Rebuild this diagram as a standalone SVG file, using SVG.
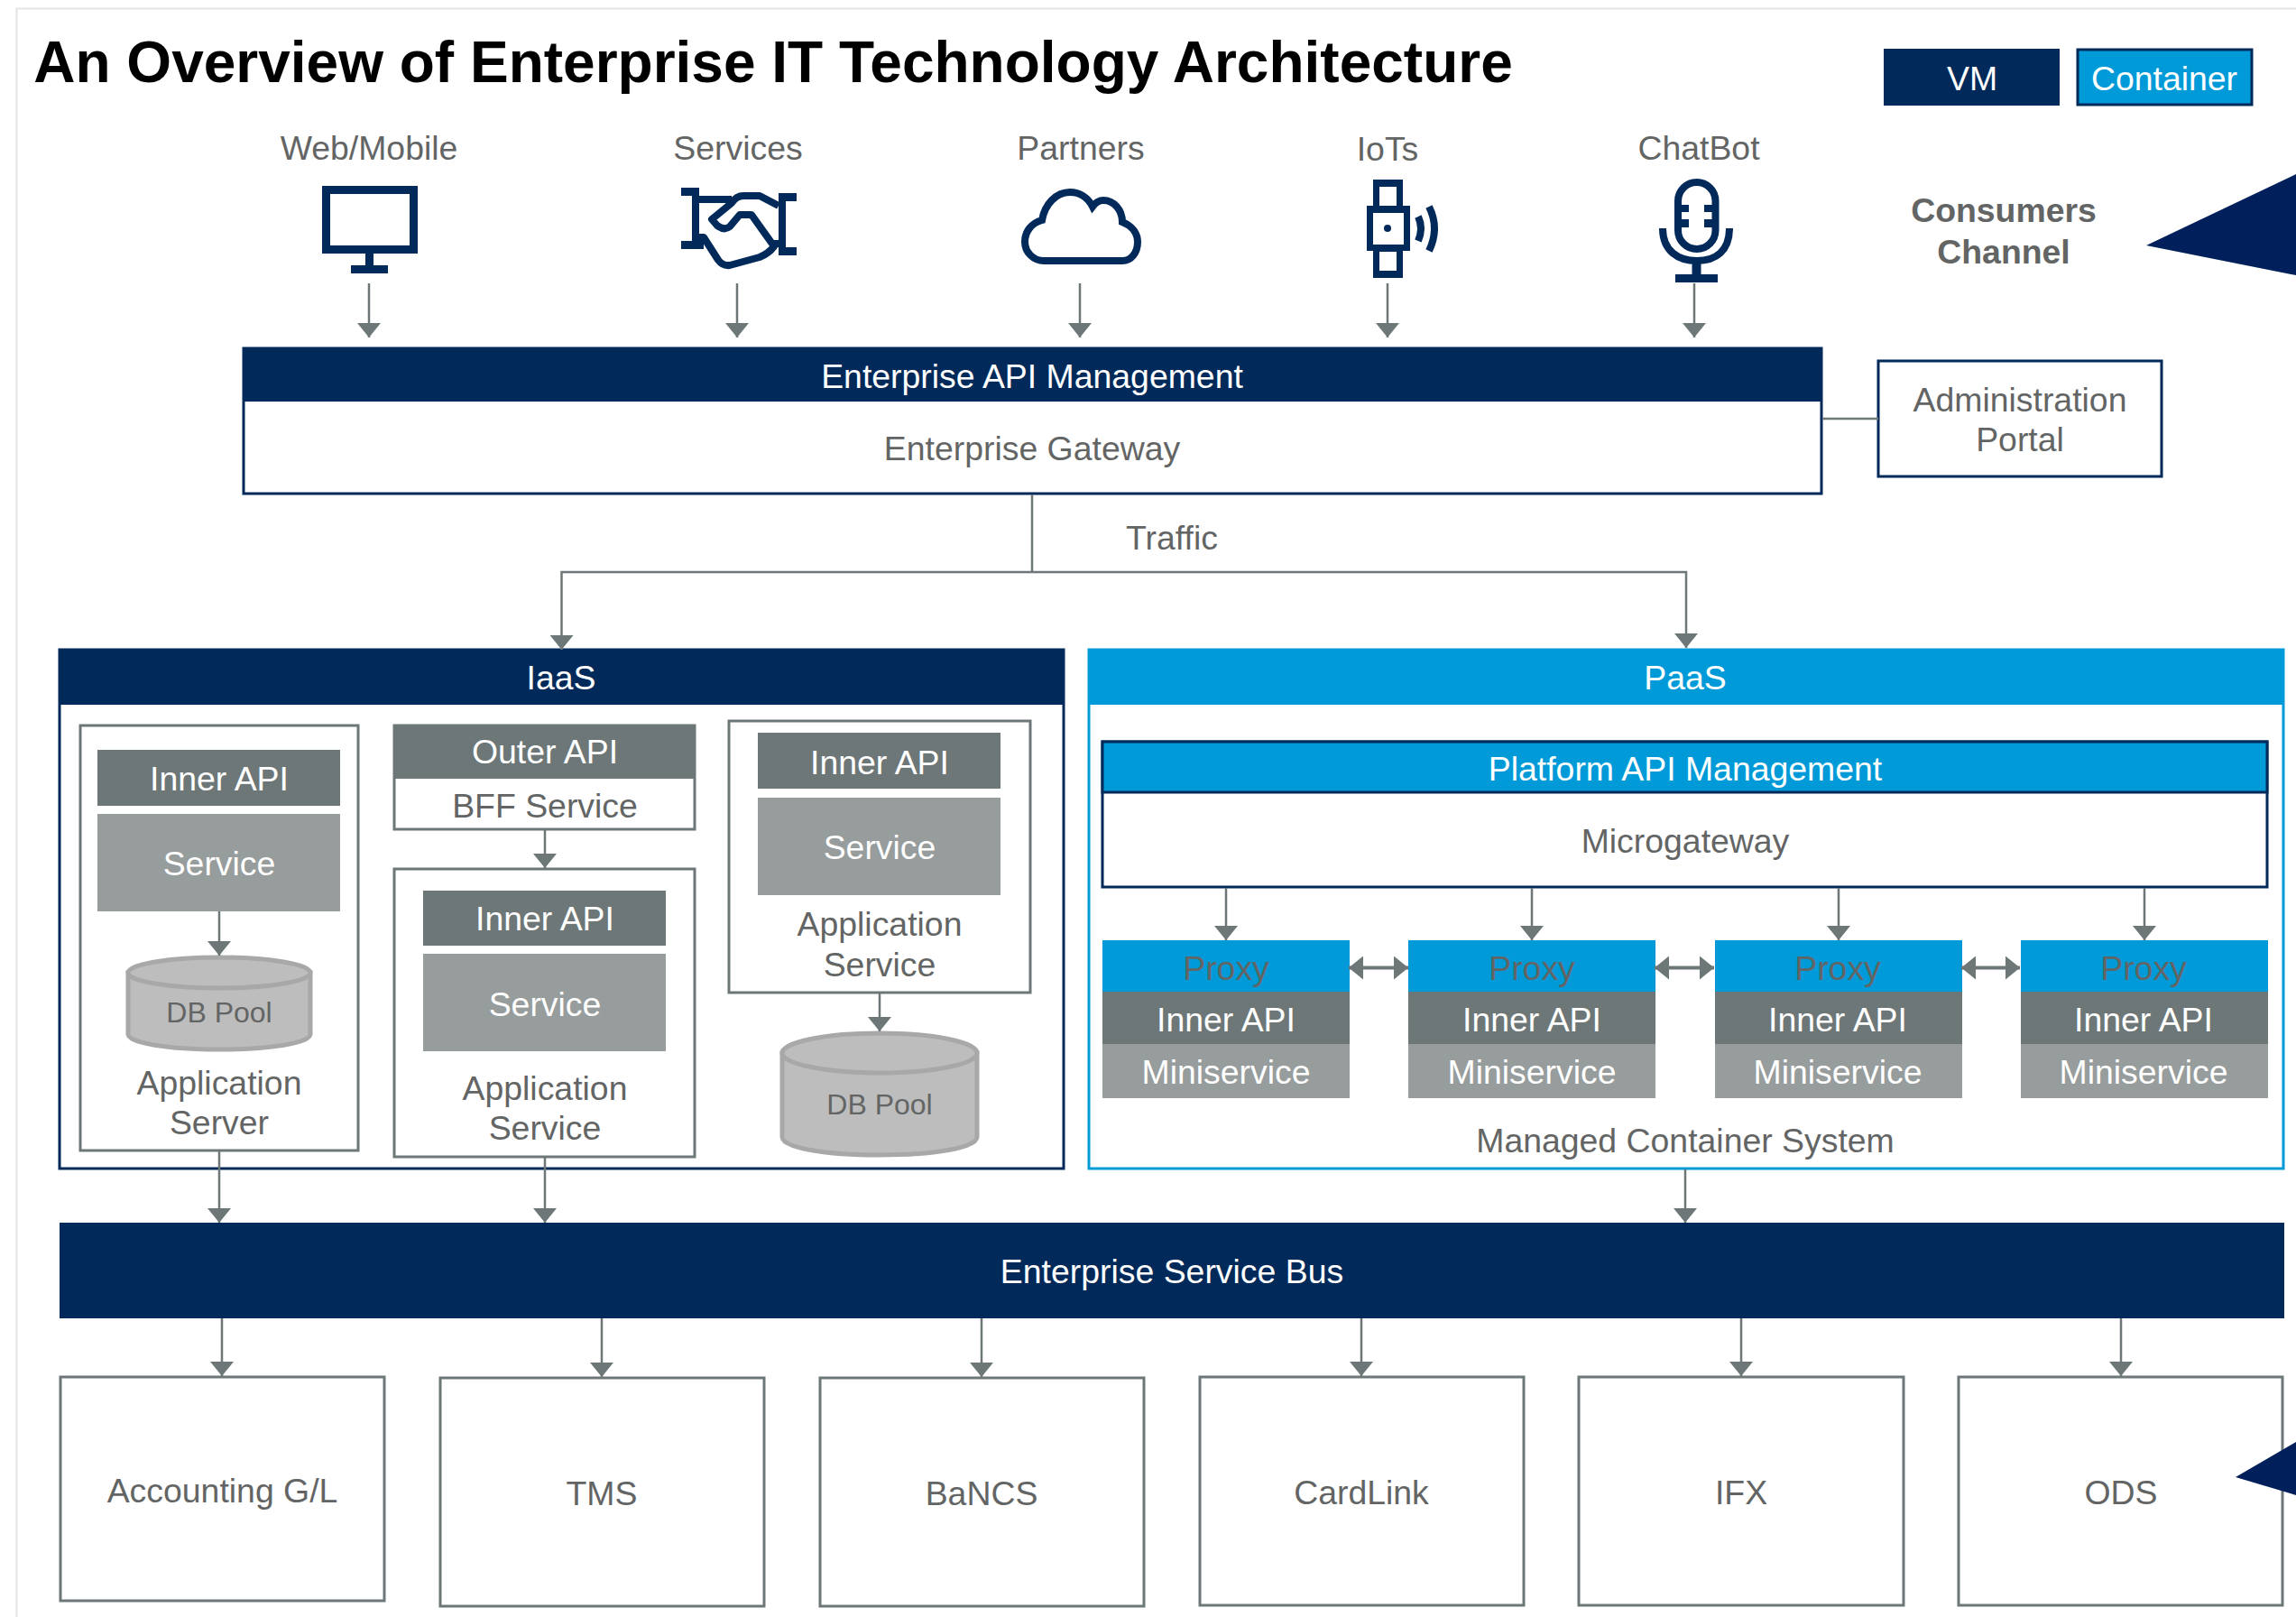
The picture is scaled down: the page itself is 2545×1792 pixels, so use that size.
<svg xmlns="http://www.w3.org/2000/svg" width="2545" height="1792" viewBox="0 0 2545 1792">
<style>
text{font-family:"Liberation Sans",Arial,sans-serif;font-size:37.4px;text-anchor:middle;fill:#636565}
.w{fill:#fff}
.b{font-weight:bold}
.s{font-size:32px}
.navy{fill:#012a5a}
.blue{fill:#009ad8}
.dark{fill:#6d7777}
.mid{fill:#979c9c}
.box{fill:#fff;stroke:#6d7777;stroke-width:3}
.nbox{fill:#fff;stroke:#012a5a;stroke-width:3}
.db{fill:#bdbdbd;stroke:#a8a8a8;stroke-width:5}
.ic{fill:none;stroke:#012a5a;stroke-width:8}
.icf{fill:#012a5a}
.c{fill:none;stroke:#6d7777;stroke-width:2.5}
.a{marker-end:url(#ah)}
.d{stroke-width:4;marker-start:url(#ah);marker-end:url(#ah)}
</style>
<defs>
<marker id="ah" markerUnits="userSpaceOnUse" markerWidth="16" markerHeight="26" refX="16" refY="13" orient="auto-start-reverse" viewBox="0 0 16 26"><path d="M0 0L16 13L0 26Z" fill="#6d7777"/></marker>
</defs>
<rect width="2545" height="1792" fill="#fff"/>
<path d="M18.500 1792V9.500H2545" fill="none" stroke="#e4e4e4" stroke-width="2"/>
<text id="title" class="b" x="857" y="91" style="font-size:64px;fill:#000">An Overview of Enterprise IT Technology Architecture</text>

<g id="legend-vm"><rect class="navy" x="2088" y="54" width="195" height="63"/><text class="w" x="2186" y="100">VM</text></g>
<g id="legend-container"><rect class="blue" x="2303" y="55" width="193" height="61" stroke="#012a5a" stroke-width="3"/><text class="w" x="2399" y="100">Container</text></g>

<g id="web-mobile"><text x="409" y="177">Web/Mobile</text>
<path class="icf" fill-rule="evenodd" d="M357 206H463V281H414V294H430V303H389V294H405V281H357ZM366 215V272H454V215Z"/></g>
<g id="services"><text x="818" y="177">Services</text>
<path class="icf" d="M755 208H775V217H811V225H775V267H780V276H755V267H767V217H755ZM863 214H883V223H871V274H883V283H863Z"/>
<path class="ic" d="M863 228L842 217H824Q816 217 811 225L789 243L795 250Q803 256 809 251L820 238H833L858 273Q852 281 842 285L809 294Q801 295 796 288L780 263H775M858 270H863" stroke-linejoin="round"/></g>
<g id="partners"><text x="1198" y="177">Partners</text>
<path class="ic" d="M1157 289H1244C1254 289 1261 280 1261 268C1261 258 1254 250 1244 246C1244 233 1235 222 1223 222C1218 222 1214 225 1211 229C1206 219 1197 213 1186 213C1170 213 1158 227 1155 244C1144 247 1136 256 1136 268C1136 280 1146 289 1157 289Z"/></g>
<g id="iots"><text x="1538" y="178">IoTs</text>
<path class="icf" fill-rule="evenodd" d="M1522 199H1555V228H1563V278H1555V308H1522V278H1515V228H1522ZM1529 207V228H1548V207ZM1522 236V271H1556V236ZM1529 279V300H1548V279Z"/>
<circle class="icf" cx="1538" cy="253" r="4"/>
<path class="ic" d="M1572 240Q1578 253 1572 267M1584 229Q1596 253 1584 278" stroke-width="7"/></g>
<g id="chatbot"><text x="1883" y="177">ChatBot</text>
<rect class="ic" x="1860" y="202" width="41.500" height="74" rx="20.700"/>
<path class="icf" d="M1860 227H1872V235H1860ZM1860 243H1872V252H1860ZM1889 227H1901V235H1889ZM1889 243H1901V252H1889ZM1875.500 290H1885.500V304H1904V313H1857V304H1875.500Z"/>
<path class="ic" d="M1843 253C1843 278 1860 289 1881 289C1902 289 1917 278 1917 253"/></g>
<g id="consumers-channel"><text class="b" x="2221" y="246">Consumers</text><text class="b" x="2221" y="292">Channel</text></g>
<polygon id="pointer-top" points="2379,272 2545,193 2545,305" fill="#011f5b"/>

<g id="api-management"><rect class="nbox" x="270" y="386" width="1749" height="161"/><rect class="navy" x="269" y="385" width="1751" height="60"/>
<text class="w" x="1144" y="430">Enterprise API Management</text><text x="1144" y="510">Enterprise Gateway</text></g>
<g id="admin-portal"><rect class="nbox" x="2082" y="400" width="314" height="128"/><text x="2239" y="456">Administration</text><text x="2239" y="500">Portal</text></g>
<text id="traffic" x="1299" y="609">Traffic</text>

<g id="iaas"><rect class="nbox" x="66" y="720" width="1113" height="575"/><rect class="navy" x="65" y="720" width="1115" height="61"/><text class="w" x="622" y="764">IaaS</text></g>
<g id="app-server"><rect class="box" x="89" y="804" width="308" height="471"/>
<rect class="dark" x="108" y="831" width="269" height="62"/><text class="w" x="243" y="876">Inner API</text>
<rect class="mid" x="108" y="902" width="269" height="108"/><text class="w" x="243" y="970">Service</text>
<text x="243" y="1213">Application</text><text x="243" y="1257">Server</text></g>
<g id="db-pool-1"><path class="db" d="M142 1078V1146C142 1156 187 1163 243 1163S344 1156 344 1146V1078Z"/><ellipse class="db" cx="243" cy="1078" rx="101" ry="17"/><text class="s" x="243" y="1133">DB Pool</text></g>
<g id="bff-service"><rect class="box" x="437" y="804" width="333" height="115"/><rect class="dark" x="436" y="803" width="335" height="60"/>
<text class="w" x="604" y="846">Outer API</text><text x="604" y="906">BFF Service</text></g>
<g id="app-service-1"><rect class="box" x="437" y="963" width="333" height="319"/>
<rect class="dark" x="469" y="987" width="269" height="61"/><text class="w" x="604" y="1031">Inner API</text>
<rect class="mid" x="469" y="1057" width="269" height="108"/><text class="w" x="604" y="1126">Service</text>
<text x="604" y="1219">Application</text><text x="604" y="1263">Service</text></g>
<g id="app-service-2"><rect class="box" x="808" y="799" width="334" height="301"/>
<rect class="dark" x="840" y="812" width="269" height="62"/><text class="w" x="975" y="858">Inner API</text>
<rect class="mid" x="840" y="884" width="269" height="108"/><text class="w" x="975" y="952">Service</text>
<text x="975" y="1037">Application</text><text x="975" y="1082">Service</text></g>
<g id="db-pool-2"><path class="db" d="M867 1167V1260C867 1272 915 1280 975 1280S1083 1272 1083 1260V1167Z"/><ellipse class="db" cx="975" cy="1167" rx="108" ry="22"/><text class="s" x="975" y="1235">DB Pool</text></g>

<g id="paas"><rect x="1207" y="720" width="1324" height="575" fill="#fff" stroke="#009ad8" stroke-width="3"/><rect class="blue" x="1206" y="719" width="1326" height="62"/><text class="w" x="1868" y="764">PaaS</text>
<text x="1868" y="1277">Managed Container System</text></g>
<g id="platform-api"><rect class="nbox" x="1222" y="822" width="1291" height="161"/><rect class="blue" x="1222" y="822" width="1291" height="56" stroke="#012a5a" stroke-width="3"/>
<text class="w" x="1868" y="865">Platform API Management</text><text x="1868" y="945">Microgateway</text></g>
<g id="miniservice-1"><rect class="blue" x="1222" y="1042" width="274" height="57"/><rect class="dark" x="1222" y="1099" width="274" height="58"/><rect class="mid" x="1222" y="1157" width="274" height="60"/><text x="1359" y="1086">Proxy</text><text class="w" x="1359" y="1143">Inner API</text><text class="w" x="1359" y="1201">Miniservice</text></g>
<g id="miniservice-2"><rect class="blue" x="1561" y="1042" width="274" height="57"/><rect class="dark" x="1561" y="1099" width="274" height="58"/><rect class="mid" x="1561" y="1157" width="274" height="60"/><text x="1698" y="1086">Proxy</text><text class="w" x="1698" y="1143">Inner API</text><text class="w" x="1698" y="1201">Miniservice</text></g>
<g id="miniservice-3"><rect class="blue" x="1901" y="1042" width="274" height="57"/><rect class="dark" x="1901" y="1099" width="274" height="58"/><rect class="mid" x="1901" y="1157" width="274" height="60"/><text x="2037" y="1086">Proxy</text><text class="w" x="2037" y="1143">Inner API</text><text class="w" x="2037" y="1201">Miniservice</text></g>
<g id="miniservice-4"><rect class="blue" x="2240" y="1042" width="274" height="57"/><rect class="dark" x="2240" y="1099" width="274" height="58"/><rect class="mid" x="2240" y="1157" width="274" height="60"/><text x="2376" y="1086">Proxy</text><text class="w" x="2376" y="1143">Inner API</text><text class="w" x="2376" y="1201">Miniservice</text></g>

<g id="esb"><rect class="navy" x="66" y="1355" width="2466" height="106"/><text class="w" x="1299" y="1422">Enterprise Service Bus</text></g>
<g id="accounting"><rect class="box" x="67" y="1526" width="359" height="248"/><text x="246.500" y="1665">Accounting G/L</text></g>
<g id="tms"><rect class="box" x="488" y="1527" width="359" height="253"/><text x="667" y="1668">TMS</text></g>
<g id="bancs"><rect class="box" x="909" y="1527" width="359" height="253"/><text x="1088" y="1668">BaNCS</text></g>
<g id="cardlink"><rect class="box" x="1330" y="1526" width="359" height="253"/><text x="1509" y="1667">CardLink</text></g>
<g id="ifx"><rect class="box" x="1750" y="1526" width="360" height="253"/><text x="1930" y="1667">IFX</text></g>
<g id="ods"><rect class="box" x="2171" y="1526" width="359" height="253"/><text x="2351" y="1667">ODS</text></g>
<polygon id="pointer-bottom" points="2478,1637 2545,1598 2545,1657" fill="#011f5b"/>

<g id="connectors">
<path class="c a" d="M409 314V374"/><path class="c a" d="M817 314V374"/><path class="c a" d="M1197 314V374"/><path class="c a" d="M1538 314V374"/><path class="c a" d="M1878 314V374"/>
<path class="c" d="M2020 464H2082" stroke-width="3"/>
<path class="c" d="M1144 548V634"/>
<path class="c a" d="M1144 634H622.500V720"/><path class="c a" d="M1144 634H1869V718"/>
<path class="c a" d="M243 1010V1059"/><path class="c a" d="M604 920V962"/><path class="c a" d="M975 1100V1143"/>
<path class="c a" d="M243 1275V1355"/><path class="c a" d="M604 1282V1355"/><path class="c a" d="M1868 1296V1355"/>
<path class="c a" d="M1359 984V1042"/><path class="c a" d="M1698 984V1042"/><path class="c a" d="M2038 984V1042"/><path class="c a" d="M2377 984V1042"/>
<path class="c d" d="M1495 1072.500H1561"/><path class="c d" d="M1834 1072.500H1900"/><path class="c d" d="M2174 1072.500H2239"/>
<path class="c a" d="M246 1461V1525"/><path class="c a" d="M667 1461V1526"/><path class="c a" d="M1088 1461V1526"/><path class="c a" d="M1509 1461V1525"/><path class="c a" d="M1930 1461V1525"/><path class="c a" d="M2351 1461V1525"/>
</g>
</svg>
